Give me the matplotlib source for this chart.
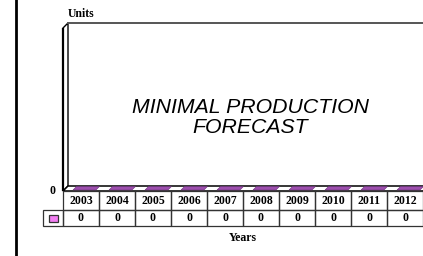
import matplotlib
matplotlib.use("Agg")
import matplotlib.pyplot as plt
from matplotlib.patches import Polygon, Rectangle
from matplotlib.lines import Line2D

# ---- data ----
years = ["2003", "2004", "2005", "2006", "2007", "2008", "2009", "2010", "2011", "2012"]
values = [0, 0, 0, 0, 0, 0, 0, 0, 0, 0]
y_ticks = [0]
title = "MINIMAL PRODUCTION\nFORECAST"
y_label = "Units"
x_label = "Years"

W, H = 423, 256
fig = plt.figure(figsize=(W / 100, H / 100), dpi=100)
fig.patch.set_facecolor("white")

serif = ["Liberation Serif", "DejaVu Serif"]
sans = ["Liberation Sans", "DejaVu Sans"]
bar_color = "#9d4fae"
legend_color = "#f27ef2"

n = len(years)
# plot axes: front of floor from px x=63..423, y=191 (value 0) .. 28 (top)
ax = fig.add_axes([63 / W, (H - 191) / H, 360 / W, (191 - 28) / H])
ax.set_xlim(0, n)
ax.set_ylim(0, 1)
ax.axis("off")
px_x = n / 360.0          # data units per pixel (x)
px_y = 1 / 163.0          # data units per pixel (y)
dx, dy = 5 * px_x, 5 * px_y

# left wall
ax.add_patch(Polygon([(0, 0), (dx, dy), (dx, 1 + dy), (0, 1)], closed=True,
                     facecolor="white", edgecolor="black", lw=1.0, clip_on=False))
ax.plot([0, 0], [0, 1], color="black", lw=1.6, clip_on=False, solid_capstyle="butt")
# back wall top edge
ax.plot([dx, n + dx], [1 + dy, 1 + dy], color="#555555", lw=1.4, clip_on=False)
# floor
ax.add_patch(Polygon([(0, 0), (n, 0), (n + dx, dy), (dx, dy)], closed=True,
                     facecolor="white", edgecolor="black", lw=1.1, clip_on=False))

# bars (zero-height -> flat top faces on the floor)
for i, v in enumerate(values):
    x0 = i + 9 * px_x
    x1 = i + 32 * px_x
    f1, f2 = 1 * px_y, 4.5 * px_y
    s1, s2 = 1 * px_x, 4.5 * px_x
    poly = [(x0 + s1, v + f1), (x1 + s1, v + f1), (x1 + s2, v + f2), (x0 + s2, v + f2)]
    ax.add_patch(Polygon(poly, closed=True, facecolor=bar_color, edgecolor="#6a2f78",
                         lw=0.4, clip_on=False))

# y tick labels
for t in y_ticks:
    ax.text(-11 * px_x, t, str(t), ha="center", va="center", fontsize=8.5,
            fontweight="bold", family=serif)
# y axis title
ax.text(5 * px_x, 1 + 14 * px_y, y_label, ha="left", va="center", fontsize=8.5,
        fontweight="bold", family=serif)

# title
fig.text(250 / W, 1 - 117.5 / H, title, ha="center", va="center", fontsize=15.3,
         style="italic", family=sans, linespacing=1.12)

# data table
tax = fig.add_axes([43 / W, (H - 226) / H, 380 / W, (226 - 191) / H])
tax.set_xlim(-20 / 36, n)
tax.set_ylim(0, 35)
tax.invert_yaxis()
tax.axis("off")
row_h = [0, 19, 35]
lc = "#333333"
for i, yr in enumerate(years):
    tax.add_patch(Rectangle((i, row_h[0]), 1, row_h[1] - row_h[0], facecolor="none",
                            edgecolor=lc, lw=0.9, clip_on=False))
    tax.add_patch(Rectangle((i, row_h[1]), 1, row_h[2] - row_h[1], facecolor="none",
                            edgecolor=lc, lw=0.9, clip_on=False))
    tax.text(i + 0.5, (row_h[0] + row_h[1]) / 2 + 1, yr, ha="center", va="center",
             fontsize=8.5, fontweight="bold", family=serif)
    tax.text(i + 0.5, (row_h[1] + row_h[2]) / 2, str(values[i]), ha="center",
             va="center", fontsize=8.5, fontweight="bold", family=serif)
# legend cell
tax.add_patch(Rectangle((-20 / 36, row_h[1]), 20 / 36, row_h[2] - row_h[1],
                        facecolor="none", edgecolor=lc, lw=0.9, clip_on=False))
tax.add_patch(Rectangle((-14 / 36, 23.5), 9 / 36, 7, facecolor=legend_color,
                        edgecolor="#333333", lw=0.9, clip_on=False))

# x axis title
fig.text(243 / W, 1 - 238 / H, x_label, ha="center", va="center", fontsize=8.5,
         fontweight="bold", family=serif)

# left thick border line
fig.add_artist(Line2D([16 / W, 16 / W], [0, 1], color="black", lw=2.0,
                      transform=fig.transFigure))

fig.savefig("out.png", dpi=100, facecolor="white")
